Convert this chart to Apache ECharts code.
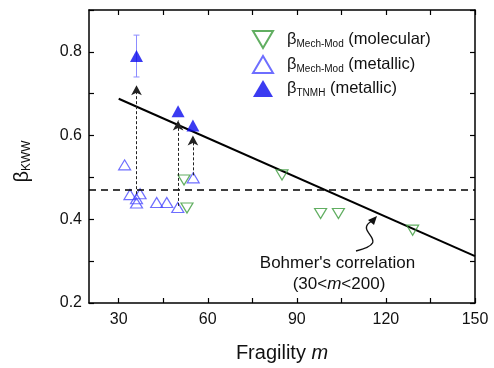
<!DOCTYPE html>
<html>
<head>
<meta charset="utf-8">
<script src="https://cdn.jsdelivr.net/npm/echarts@6/dist/echarts.min.js"></script>
<style>
  html, body { margin: 0; padding: 0; background: #fff; }
  #chart { width: 494px; height: 368px; }
</style>
</head>
<body>
<div id="chart"></div>
<script>
// beta_Mech-Mod (molecular) — open down triangles
const molM = [52, 53, 85, 98, 104, 129]
const molB = [0.494, 0.427, 0.506, 0.414, 0.414, 0.374]
// beta_Mech-Mod (metallic) — open up triangles
const metM = [32, 33.8, 37.2, 36, 36, 42.8, 46.2, 49.9, 55.1]
const metB = [0.530, 0.459, 0.461, 0.449, 0.439, 0.440, 0.440, 0.428, 0.499]
// beta_TNMH (metallic) — filled triangles
const tnmhM = [36, 50, 55]
const tnmhB = [0.790, 0.658, 0.624]
const tnmhErr = [0.05, 0, 0]
// dashed arrows from Mech-Mod to TNMH
const arrowM = [36, 50, 55]
const arrowFrom = [0.46, 0.432, 0.505]
const arrowTo = [0.72, 0.636, 0.600]
// Bohmer's correlation line and reference level
const bohmerM = [30, 150]
const bohmerB = [0.688, 0.312]
const refB = 0.47

const xTicks = [30, 45, 60, 75, 90, 105, 120, 135, 150]
const xLabels = [30, 60, 90, 120, 150]
const yTicks = [0.2, 0.3, 0.4, 0.5, 0.6, 0.7, 0.8, 0.9]
const yLabels = [0.2, 0.4, 0.6, 0.8]

const font = 'Liberation Sans, Arial, sans-serif'
const axisLine = { lineStyle: { color: '#000', width: 1.5 } }
const tickStyle = { lineStyle: { color: '#000', width: 1.2 } }
const downTri = 'path://M0,0 L20,0 L10,17 Z'

const chart = echarts.init(document.getElementById('chart'))

chart.setOption({
  animation: false,
  textStyle: { fontFamily: font },
  grid: { left: 89, right: 19, top: 10, bottom: 65 },
  legend: {
    orient: 'vertical',
    left: 247,
    top: 25,
    itemGap: 6,
    itemWidth: 20,
    itemHeight: 17,
    data: [{ name: 'mol', icon: downTri }, 'met', 'tnmh'],
    textStyle: {
      fontSize: 16.5, color: '#111', fontFamily: font, padding: [0, 0, 0, 9],
      rich: { s: { fontSize: 10, verticalAlign: 'bottom', padding: [9, 0, 0, 0], color: '#111' } },
    },
    formatter: n => ({
      mol: 'β{s|Mech-Mod} (molecular)',
      met: 'β{s|Mech-Mod} (metallic)',
      tnmh: 'β{s|TNMH} (metallic)',
    })[n],
  },
  xAxis: [
    {
      type: 'value', min: 20, max: 150, position: 'bottom',
      axisLine,
      axisTick: { inside: true, length: 5, customValues: xTicks, ...tickStyle },
      axisLabel: { customValues: xLabels, fontSize: 16, color: '#111', margin: 9 },
      splitLine: { show: false },
      name: 'Fragility {i|m}', nameLocation: 'middle', nameGap: 40,
      nameTextStyle: { fontSize: 20, color: '#111', rich: { i: { fontSize: 20, fontStyle: 'italic', color: '#111' } } },
    },
    {
      type: 'value', min: 20, max: 150, position: 'top',
      axisLine,
      axisTick: { inside: true, length: 5, customValues: xTicks, ...tickStyle },
      axisLabel: { show: false },
      splitLine: { show: false },
    },
  ],
  yAxis: [
    {
      type: 'value', min: 0.2, max: 0.9, position: 'left',
      axisLine,
      axisTick: { inside: true, length: 5, customValues: yTicks, ...tickStyle },
      axisLabel: { customValues: yLabels, fontSize: 16, color: '#111', margin: 7, formatter: v => v.toFixed(1) },
      splitLine: { show: false },
      name: 'β{s|KWW}', nameLocation: 'middle', nameGap: 56, nameRotate: 90,
      nameTextStyle: {
        fontSize: 20, color: '#111', padding: [0, 10, 0, 0],
        rich: { s: { fontSize: 12, color: '#111', verticalAlign: 'bottom', padding: [10, 0, 0, 0] } },
      },
    },
    {
      type: 'value', min: 0.2, max: 0.9, position: 'right',
      axisLine,
      axisTick: { inside: true, length: 5, customValues: yTicks, ...tickStyle },
      axisLabel: { show: false },
      splitLine: { show: false },
    },
  ],
  series: [
    {
      name: 'bohmer',
      type: 'line',
      data: bohmerM.map((m, i) => [m, bohmerB[i]]),
      symbol: 'none',
      lineStyle: { color: '#000', width: 2 },
      z: 2,
      markLine: {
        silent: true,
        symbol: 'none',
        label: { show: false },
        lineStyle: { color: '#000', width: 1.5, type: [7, 5] },
        data: [{ yAxis: refB }],
      },
    },
    {
      name: 'arrows',
      type: 'line',
      data: [],
      markLine: {
        silent: true,
        symbol: ['none', 'arrow'],
        symbolSize: [8, 10],
        label: { show: false },
        lineStyle: { color: '#222', width: 1, type: [3, 2] },
        data: arrowM.map((m, i) => [{ coord: [m, arrowFrom[i]] }, { coord: [m, arrowTo[i]] }]),
      },
    },
    {
      name: 'err',
      type: 'custom',
      data: tnmhM.map((m, i) => [m, tnmhB[i] - tnmhErr[i], tnmhB[i] + tnmhErr[i]]).filter(d => d[2] > d[1]),
      renderItem: (params, api) => {
        const lo = api.coord([api.value(0), api.value(1)])
        const hi = api.coord([api.value(0), api.value(2)])
        const c = 3
        const style = { stroke: '#8c8cff', lineWidth: 1 }
        return {
          type: 'group',
          children: [
            { type: 'line', shape: { x1: lo[0], y1: lo[1], x2: hi[0], y2: hi[1] }, style },
            { type: 'line', shape: { x1: lo[0] - c, y1: lo[1], x2: lo[0] + c, y2: lo[1] }, style },
            { type: 'line', shape: { x1: hi[0] - c, y1: hi[1], x2: hi[0] + c, y2: hi[1] }, style },
          ],
        }
      },
      z: 3,
    },
    {
      name: 'mol',
      type: 'scatter',
      data: molM.map((m, i) => [m, molB[i]]),
      symbol: 'triangle',
      symbolRotate: 180,
      symbolSize: [12, 10],
      itemStyle: { color: 'rgba(255,255,255,0)', borderColor: '#3a9a3a', borderWidth: 1.2 },
      z: 4,
    },
    {
      name: 'met',
      type: 'scatter',
      data: metM.map((m, i) => [m, metB[i]]),
      symbol: 'triangle',
      symbolSize: [12, 10],
      itemStyle: { color: 'rgba(255,255,255,0)', borderColor: '#4a4aff', borderWidth: 1.2 },
      z: 4,
    },
    {
      name: 'tnmh',
      type: 'scatter',
      data: tnmhM.map((m, i) => [m, tnmhB[i]]),
      symbol: 'triangle',
      symbolSize: [13, 12],
      itemStyle: { color: '#0a0aee' },
      z: 5,
    },
  ],
  graphic: [
    {
      type: 'text', x: 337.5, y: 263,
      style: { text: "Bohmer's correlation", fontSize: 17, fill: '#111', fontFamily: font, align: 'center', verticalAlign: 'middle' },
    },
    {
      type: 'text', x: 339, y: 284,
      style: {
        text: '(30<{i|m}<200)', fontSize: 17, fill: '#111', fontFamily: font, align: 'center', verticalAlign: 'middle',
        rich: { i: { fontStyle: 'italic', fontSize: 17, fill: '#111' } },
      },
    },
    {
      type: 'bezierCurve',
      shape: { x1: 356, y1: 251, cpx1: 395, cpy1: 241, cpx2: 352, cpy2: 232, x2: 372, y2: 221 },
      style: { stroke: '#111', lineWidth: 1.4, fill: null },
    },
    {
      type: 'polygon',
      shape: { points: [[377, 216], [368, 220], [374, 225]] },
      style: { fill: '#111' },
    },
  ],
})
</script>
</body>
</html>
